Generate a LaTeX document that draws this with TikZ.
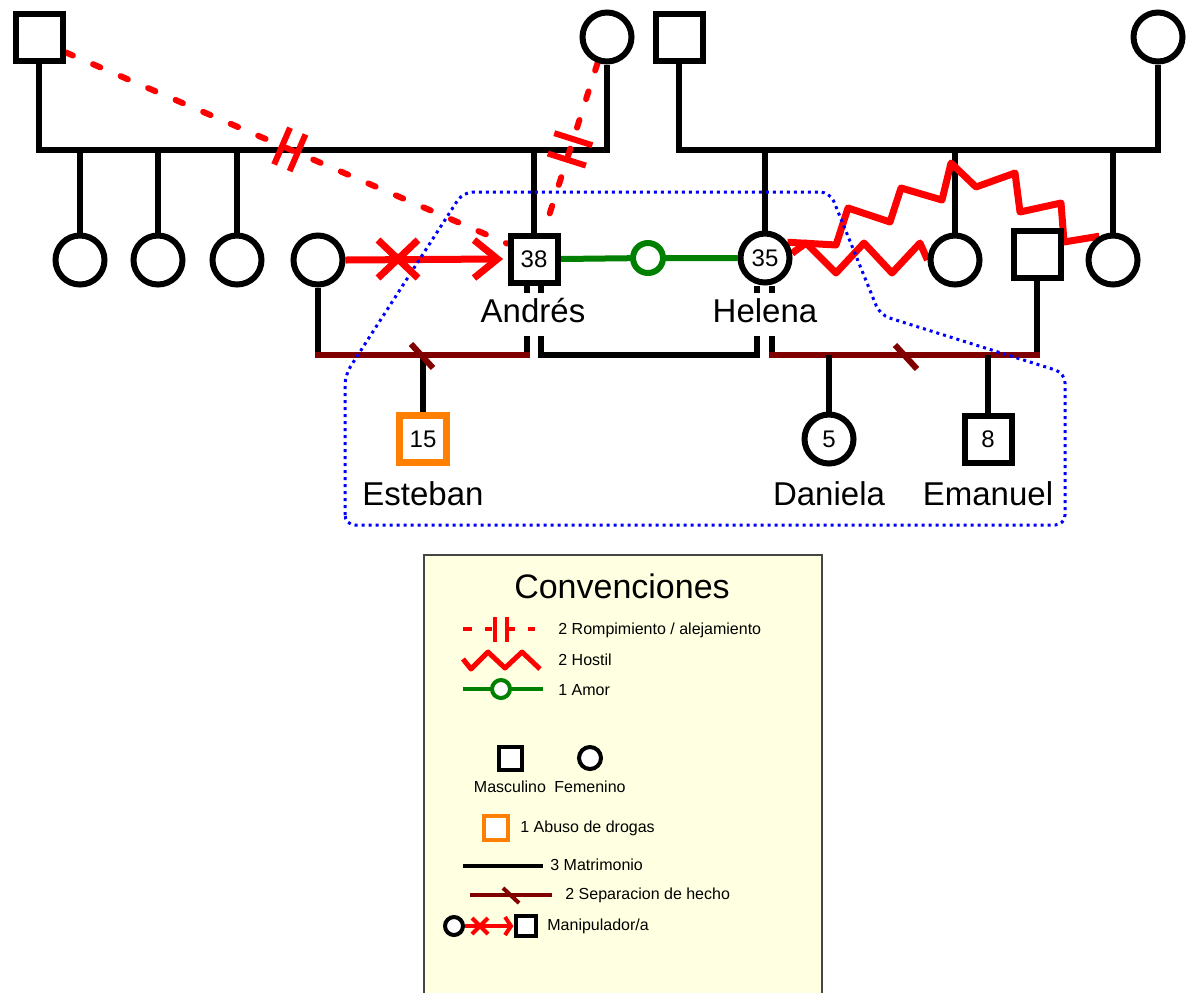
\documentclass[tikz,border=0pt]{standalone}
\usepackage{fontspec}
\setmainfont{Liberation Sans}
\usetikzlibrary{calc,backgrounds}
\definecolor{sepred}{RGB}{128,0,0}
\definecolor{amorgreen}{RGB}{0,128,0}
\definecolor{drugorange}{RGB}{255,128,0}
\definecolor{legendbg}{RGB}{255,255,225}
\definecolor{legendframe}{RGB}{70,70,70}
\begin{document}
\begin{tikzpicture}[x=0.5pt,y=-0.5pt,
 male/.style={rectangle,draw=black,fill=white,line width=3pt,minimum size=23.5pt,inner sep=0pt},
 female/.style={circle,draw=black,fill=white,line width=3pt,minimum size=24.5pt,inner sep=0pt},
 drug/.style={male,draw=drugorange,line width=3.5pt},
 num/.style={font=\fontsize{12pt}{13pt}\selectfont},
 amorc/.style={circle,draw=amorgreen,fill=white,line width=3pt,minimum size=15pt,inner sep=0pt},
 pname/.style={font=\fontsize{16.5pt}{18pt}\selectfont,inner sep=1pt},
 cover/.style={pname,fill=white,text height=12pt,text depth=3.5pt,inner ysep=3pt},
 rel/.style={line width=3pt,black},
 seprel/.style={line width=3pt,sepred},
 amorline/.style={line width=3pt,amorgreen},
 rompe/.style={red,line width=3pt,dash pattern=on 4pt off 11pt,line cap=round},
 redmark/.style={red,line width=3pt},
 hostil/.style={red,line width=3.5pt,line join=round},
 manip/.style={red,line width=3.5pt},
 famline/.style={blue,line width=1.5pt,dash pattern=on 1.5pt off 2pt,rounded corners=5pt},
 legtext/.style={font=\fontsize{8pt}{9pt}\selectfont,inner sep=0pt},
 lmale/.style={rectangle,draw=black,fill=white,line width=2pt,minimum size=11.5pt,inner sep=0pt},
 lfemale/.style={circle,draw=black,fill=white,line width=2pt,minimum size=11pt,inner sep=0pt},
]
\useasboundingbox (0,0) rectangle (1187,992);

% ---------- persons ----------
\node[male] (pgf) at (39,37) {};
\node[female] (pgm) at (607,37) {};
\node[male] (mgf) at (679,37) {};
\node[female] (mgm) at (1158,37) {};
\node[female] (t1) at (80,260) {};
\node[female] (t2) at (158,260) {};
\node[female] (t3) at (237,260) {};
\node[female] (exA) at (318,260) {};
\node[male,num] (andres) at (534,259) {38};
\node[amorc] (amor) at (648,258) {};
\node[female,num] (helena) at (765,258) {35};
\node[female] (hs1) at (955,260) {};
\node[male] (exH) at (1037,254) {};
\node[female] (hs2) at (1113,260) {};
\node[drug,num] (esteban) at (423,439) {15};
\node[female,num] (daniela) at (829,439) {5};
\node[male,num] (emanuel) at (988,439) {8};

\coordinate (lineL) at (0,150);
\coordinate (cpl) at (0,355);
\coordinate (aL) at ($(andres.south)+(-7,0)$);
\coordinate (aR) at ($(andres.south)+(7,0)$);
\coordinate (hL) at ($(helena.south)+(-8,0)$);
\coordinate (hR) at ($(helena.south)+(7,0)$);

\begin{scope}[on background layer]
 % sibships
 \draw[rel] (pgf.south) |- (pgm.south |- lineL) -- (pgm.south);
 \foreach \c in {t1,t2,t3,andres} \draw[rel] (\c.north) -- (\c.north |- lineL);
 \draw[rel] (mgf.south) |- (mgm.south |- lineL) -- (mgm.south);
 \foreach \c in {helena,hs1,hs2} \draw[rel] (\c.north) -- (\c.north |- lineL);
 % couples
 \draw[rel] (exA.south) -- (exA.south |- cpl);
 \draw[rel] (aL) -- (aL |- cpl);
 \draw[seprel,line cap=rect] (exA.south |- cpl) -- (aL |- cpl);
 \draw[rel] (aR) -- (aR |- cpl) -- (hL |- cpl) -- (hL);
 \draw[rel] (hR) -- (hR |- cpl);
 \draw[rel] (exH.south) -- (exH.south |- cpl);
 \draw[seprel,line cap=rect] (hR |- cpl) -- (exH.south |- cpl);
 \foreach \c in {esteban,daniela,emanuel} \draw[rel] (\c.north) -- (\c.north |- cpl);
 % amor
 \draw[amorline] (andres.east) -- (amor) -- (helena.west);
 % rompimiento
 \draw[rompe] (pgf.-30) -- (andres.150);
 \foreach \p in {0.49,0.525} {
  \coordinate (m) at ($(pgf.-30)!\p!(andres.150)$);
  \draw[redmark] ($(m)!10pt!90:(andres.150)$) -- ($(m)!10pt!-90:(andres.150)$);
 }
 \draw[rompe] (pgm.250) -- (andres.70);
 \foreach \p in {0.45,0.57} {
  \coordinate (m) at ($(pgm.250)!\p!(andres.70)$);
  \draw[redmark] ($(m)!10pt!90:(andres.70)$) -- ($(m)!10pt!-90:(andres.70)$);
 }
 % hostil
 \draw[hostil] (helena.35) -- (836,245) -- (848,208) -- (890,222) -- (901,188) -- (942,200) -- (951,163) -- (976,187) -- (1015,173) -- (1020,212) -- (1061,203) -- (1064,242) -- (hs2.120);
 \draw[hostil] (helena.10) -- (806,243) -- (836,273) -- (864,243) -- (892,273) -- (920,243) -- (hs1.west);
 % manipulacion
 \draw[manip] (exA.east) -- ($(andres.west)+(-10,0)$);
 % family boundary
 \draw[famline] (345,525) -- (345,375) -- (463,192) -- (830,192) -- (880,315) -- (1065,373) -- (1065,525) -- cycle;
\end{scope}

% marks on top
\draw[manip] (378,240) -- (418,278) (378,278) -- (418,240);
\draw[manip,line join=miter] (474,240) -- ($(andres.west)+(-10,0)$) -- (474,278);
\draw[seprel] (411,344) -- (433,368);
\draw[seprel] (895,345) -- (917,369);

% names
\node[cover] (nAndres) at (533,314) {Andrés};
\node[cover] (nHelena) at (765,314) {Helena};
\node[pname] (nEsteban) at (423,494) {Esteban};
\node[pname] (nDaniela) at (829,494) {Daniela};
\node[pname] (nEmanuel) at (988,494) {Emanuel};

% ---------- legend ----------
\draw[draw=legendframe,fill=legendbg,line width=1pt] (424,555) rectangle (822,1000);
\node[font=\fontsize{17pt}{19pt}\selectfont,inner sep=0pt] (ltitle) at (622,586) {Convenciones};

\draw[red,line width=2pt] (463,629)--(472,629) (485,629)--(492,629) (507,629)--(515,629) (528,629)--(535,629);
\draw[red,line width=2pt] (495,617)--(495,642) (507,617)--(507,642);
\node[legtext,anchor=west] (lt1) at (558,630) {2 Rompimiento / alejamiento};

\draw[red,line width=2.5pt,line join=round] (463,659)--(471,669)--(488,652)--(505,668)--(522,652)--(540,669);
\node[legtext,anchor=west] (lt2) at (558,660) {2 Hostil};

\draw[amorgreen,line width=2pt] (463,689)--(543,689);
\node[circle,draw=amorgreen,fill=white,line width=2pt,minimum size=9pt,inner sep=0pt] (lamor) at (501,689) {};
\node[legtext,anchor=west] (lt3) at (558,690) {1 Amor};

\node[lmale] (lmasc) at (510,758) {};
\node[lfemale] (lfem) at (590,758) {};
\node[legtext] (lt4) at (510,787) {Masculino};
\node[legtext] (lt5) at (590,787) {Femenino};

\node[lmale,draw=drugorange,minimum size=12pt] (ldrug) at (496,828) {};
\node[legtext,anchor=west] (lt6) at (520,828) {1 Abuso de drogas};

\draw[black,line width=2pt] (463,866)--(543,866);
\node[legtext,anchor=west] (lt7) at (550,865) {3 Matrimonio};

\draw[sepred,line width=2pt] (470,895)--(552,895);
\draw[sepred,line width=2pt] (503,888)--(519,903);
\node[legtext,anchor=west] (lt8) at (565,895) {2 Separacion de hecho};

\node[lfemale,minimum size=9pt] (lmc) at (454,926) {};
\node[lmale,minimum size=10pt] (lms) at (526,926) {};
\draw[red,line width=2pt] (lmc.east) -- ($(lms.west)+(-3,0)$);
\draw[red,line width=2pt] (472,918)--(488,934) (472,934)--(488,918);
\draw[red,line width=2pt] (505,917) -- ($(lms.west)+(-3,0)$) -- (505,935);
\node[legtext,anchor=west] (lt9) at (547,926) {Manipulador/a};
\end{tikzpicture}
\end{document}
